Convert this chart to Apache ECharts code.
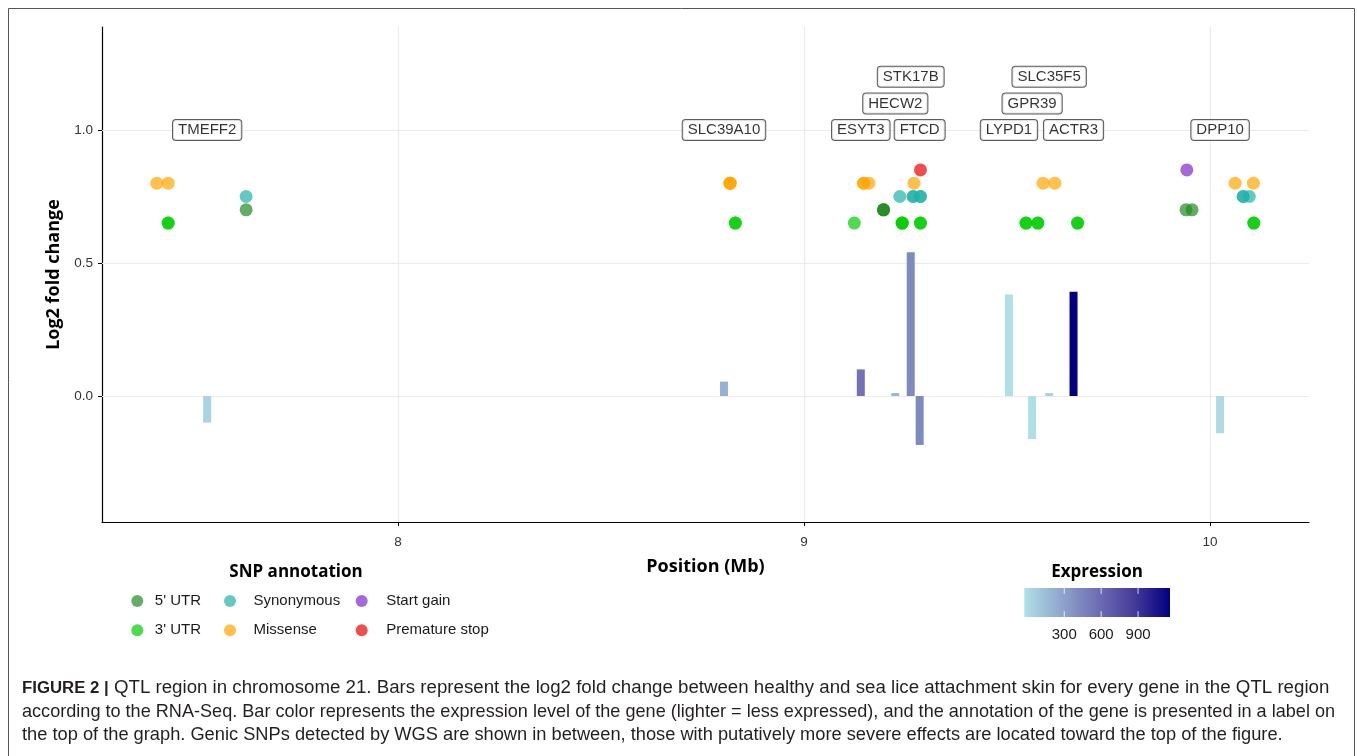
<!DOCTYPE html>
<html>
<head>
<meta charset="utf-8">
<script src="https://cdn.jsdelivr.net/npm/echarts@6/dist/echarts.min.js"></script>
<style>
html,body{margin:0;padding:0;background:#fff;}
#chart{width:1357px;height:756px;}
</style>
</head>
<body>
<div id="chart"></div>
<script>
// ---- data ----
const xTicks = [8, 9, 10];
const yTicks = [0, 0.5, 1.0];

const genes      = ['TMEFF2', 'SLC39A10', 'ESYT3', 'HECW2', 'STK17B', 'FTCD', 'LYPD1', 'GPR39', 'SLC35F5', 'ACTR3', 'DPP10'];
const genePos    = [7.530, 8.803, 9.140, 9.225, 9.263, 9.285, 9.505, 9.562, 9.604, 9.664, 10.025];
const geneLfc    = [-0.100, 0.054, 0.100, 0.011, 0.540, -0.184, 0.382, -0.162, 0.011, 0.392, -0.140];
const geneExpr   = [70, 230, 545, 210, 430, 430, 5, 15, 70, 1130, 35];
const geneLabelY = [1.0, 1.0, 1.0, 1.1, 1.2, 1.0, 1.0, 1.1, 1.2, 1.0, 1.0];

const snpTypes  = ["5' UTR", "3' UTR", 'Synonymous', 'Missense', 'Start gain', 'Premature stop'];
const snpColors = ['#228B22', '#00CD00', '#20B2AA', '#FFA500', '#7D26CD', '#EE0000'];
const snpLevel  = [0.70, 0.65, 0.75, 0.80, 0.85, 0.85];
const snp5utrPos  = [7.626, 9.196, 9.196, 9.196, 9.941, 9.956];
const snp3utrPos  = [7.434, 7.434, 8.831, 8.831, 9.124, 9.242, 9.242, 9.242, 9.287, 9.287, 9.547, 9.547, 9.576, 9.576, 9.674, 9.674, 10.108, 10.108];
const snpSynPos   = [7.626, 9.236, 9.269, 9.269, 9.287, 9.287, 10.082, 10.082, 10.097];
const snpMisPos   = [7.406, 7.434, 8.818, 8.818, 8.818, 9.147, 9.147, 9.160, 9.271, 9.589, 9.618, 10.062, 10.107];
const snpStartPos = [9.943];
const snpStopPos  = [9.287];

const exprTicks  = [300, 600, 900];
const exprColors = ['#b0e0e6', '#90a6cd', '#6e6fb4', '#473b9a', '#000080'];

const captionLines = [
  'QTL region in chromosome 21. Bars represent the log2 fold change between healthy and sea lice attachment skin for every gene in the QTL region',
  'according to the RNA-Seq. Bar color represents the expression level of the gene (lighter = less expressed), and the annotation of the gene is presented in a label on',
  'the top of the graph. Genic SNPs detected by WGS are shown in between, those with putatively more severe effects are located toward the top of the figure.'
];

// ---- layout ----
const G = {left: 102, top: 27, width: 1207, height: 495};
const X_MIN = 7.271, X_MAX = 10.244;
const Y_MIN = -0.4737, Y_MAX = 1.3872;
const SANS = '"Liberation Sans", Arial, sans-serif';
const TITLE = '"Open Sans", "Liberation Sans", sans-serif';

const exprMin = Math.min.apply(null, geneExpr), exprMax = Math.max.apply(null, geneExpr);
const CB = {x: 1024.3, y: 588, w: 145.7, h: 29};

const snpPosLists = [snp5utrPos, snp3utrPos, snpSynPos, snpMisPos, snpStartPos, snpStopPos];

const series = [];
// gridlines
series.push({
  type: 'scatter', name: 'grid', data: [], silent: true, z: 1,
  markLine: {
    silent: true, symbol: 'none', z: 1, animation: false,
    label: {show: false},
    lineStyle: {color: '#ebebeb', width: 1.2, type: 'solid'},
    emphasis: {disabled: true},
    data: yTicks.map(v => ({yAxis: v})).concat(xTicks.map(v => ({xAxis: v})))
  }
});
// expression bars
series.push({
  type: 'bar', name: 'bars', barWidth: 8, z: 2, silent: true,
  data: genes.map((g, i) => [genePos[i], geneLfc[i], geneExpr[i]]),
  animation: false
});
// SNP points
snpTypes.forEach((t, k) => {
  series.push({
    type: 'scatter', name: t, z: 3, silent: true, symbolSize: 13,
    itemStyle: {color: snpColors[k], opacity: 0.7},
    data: snpPosLists[k].map(p => [p, snpLevel[k]]),
    animation: false
  });
});
// gene labels
series.push({
  type: 'scatter', name: 'labels', z: 4, silent: true, symbolSize: 1,
  itemStyle: {color: 'rgba(0,0,0,0)'},
  label: {
    show: true, position: 'inside', formatter: p => p.name,
    fontFamily: SANS, fontSize: 15, color: '#000', lineHeight: 15,
    backgroundColor: '#fff', borderColor: '#333', borderWidth: 1, borderRadius: 3,
    padding: [3, 5, 2, 5]
  },
  data: genes.map((g, i) => ({name: g, value: [genePos[i], geneLabelY[i]]})),
  animation: false
});

function legendCol(left, names, extra) {
  return {
    data: names, orient: 'vertical', left: left, top: 593, padding: 0,
    itemWidth: 25, itemHeight: 12, itemGap: 13.3, icon: 'circle',
    selectedMode: false,
    textStyle: {fontFamily: SANS, fontSize: 15, color: '#1a1a1a', lineHeight: 16, padding: [0, 0, 0, extra]}
  };
}

const cbStops = exprColors.map((c, i) => ({offset: i / (exprColors.length - 1), color: c}));
function cbX(v) { return CB.x + (0.025 + 0.95 * (v - exprMin) / (exprMax - exprMin)) * CB.w; }

const graphic = [
  {type: 'rect', silent: true, z: 0, shape: {x: 8.5, y: 8.5, width: 1346, height: 800},
   style: {fill: 'none', stroke: '#555', lineWidth: 1}},
  {type: 'text', silent: true, x: 296, y: 572,
   style: {text: 'SNP annotation', fontFamily: TITLE, fontWeight: 'bold', fontSize: 17, fill: '#000', align: 'center', verticalAlign: 'middle'}},
  {type: 'text', silent: true, x: 1097, y: 572.5,
   style: {text: 'Expression', fontFamily: TITLE, fontWeight: 'bold', fontSize: 17, fill: '#000', align: 'center', verticalAlign: 'middle'}},
  {type: 'rect', silent: true, shape: {x: CB.x, y: CB.y, width: CB.w, height: CB.h},
   style: {fill: new echarts.graphic.LinearGradient(0, 0, 1, 0, cbStops)}}
];
exprTicks.forEach(v => {
  const x = cbX(v);
  graphic.push({type: 'line', silent: true, shape: {x1: x, y1: CB.y, x2: x, y2: CB.y + 5.8}, style: {stroke: 'rgba(255,255,255,0.8)', lineWidth: 1}});
  graphic.push({type: 'line', silent: true, shape: {x1: x, y1: CB.y + CB.h - 5.8, x2: x, y2: CB.y + CB.h}, style: {stroke: 'rgba(255,255,255,0.8)', lineWidth: 1}});
  graphic.push({type: 'text', silent: true, x: x, y: 634.5,
    style: {text: String(v), fontFamily: SANS, fontSize: 15, fill: '#1a1a1a', align: 'center', verticalAlign: 'middle'}});
});
const capY = [688, 712, 735];
const capFS = [18.7, 18.1, 18.25];
captionLines.forEach((line, i) => {
  graphic.push({type: 'text', silent: true, x: 22, y: capY[i],
    style: {
      text: i === 0 ? '{b|FIGURE 2 |} ' + line : line,
      fontFamily: SANS, fontSize: capFS[i], fill: '#231f20', align: 'left', verticalAlign: 'middle',
      rich: {b: {fontFamily: SANS, fontSize: 16.8, fontWeight: 'bold', fill: '#231f20'}}
    }});
});

const option = {
  animation: false,
  backgroundColor: '#fff',
  grid: Object.assign({containLabel: false, outerBoundsMode: 'none'}, G),
  xAxis: {
    type: 'value', min: X_MIN, max: X_MAX,
    name: 'Position (Mb)', nameLocation: 'middle', nameGap: 36,
    nameTextStyle: {fontFamily: TITLE, fontWeight: 'bold', fontSize: 18, color: '#000'},
    axisLine: {show: true, onZero: false, lineStyle: {color: '#000', width: 1.2}},
    axisTick: {show: true, length: 4, customValues: xTicks, lineStyle: {color: '#000'}},
    axisLabel: {customValues: xTicks, margin: 13, fontFamily: SANS, fontSize: 13.5, color: '#333', formatter: v => String(v)},
    splitLine: {show: false}
  },
  yAxis: {
    type: 'value', min: Y_MIN, max: Y_MAX,
    name: 'Log2 fold change', nameLocation: 'middle', nameGap: 34, nameRotate: 90,
    nameTextStyle: {fontFamily: TITLE, fontWeight: 'bold', fontSize: 18, color: '#000'},
    axisLine: {show: true, onZero: false, lineStyle: {color: '#000', width: 1.2}},
    axisTick: {show: true, length: 4, customValues: yTicks, lineStyle: {color: '#000'}},
    axisLabel: {customValues: yTicks, margin: 9, fontFamily: SANS, fontSize: 13.5, color: '#333', formatter: v => v.toFixed(1)},
    splitLine: {show: false}
  },
  visualMap: {
    type: 'continuous', show: false, seriesIndex: 1, dimension: 2,
    min: exprMin, max: exprMax, inRange: {color: exprColors}
  },
  legend: [
    legendCol(131.3, [snpTypes[0], snpTypes[1]], 0),
    legendCol(224, [snpTypes[2], snpTypes[3]], 6),
    legendCol(355.7, [snpTypes[4], snpTypes[5]], 7)
  ],
  tooltip: {show: false},
  series: series,
  graphic: graphic
};

const chart = echarts.init(document.getElementById('chart'), null, {renderer: 'canvas'});
chart.setOption(option);
</script>
</body>
</html>
